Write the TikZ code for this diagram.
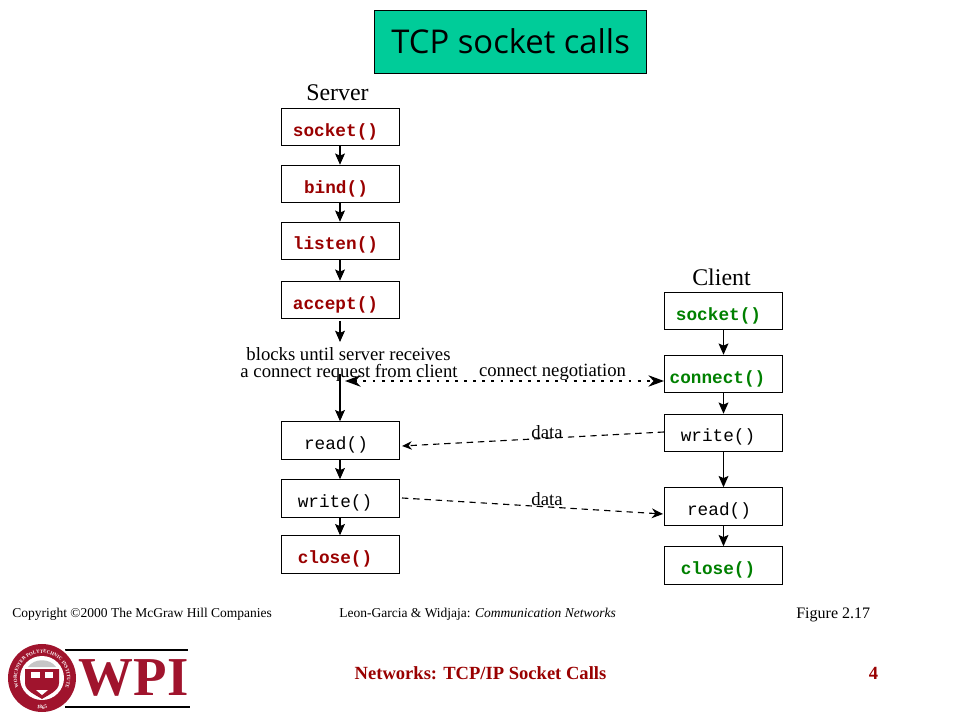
\documentclass[tikz,border=0pt]{standalone}
\usepackage{fontspec}
\setmainfont{Liberation Serif}
\setmonofont{Liberation Mono}
\setsansfont{Open Sans}
\usetikzlibrary{arrows.meta, decorations.text}

\definecolor{titlegreen}{RGB}{0,204,153}
\definecolor{callred}{RGB}{153,0,0}
\definecolor{callgreen}{RGB}{0,128,0}
\definecolor{wpired}{RGB}{160,20,45}

\def\px{*0.7112pt}
\tikzset{
    callbox/.style={draw, line width=0.7pt, minimum width=118\px, minimum height=37.5\px, inner sep=0pt},
    plaincall/.style={inner sep=0pt, font=\ttfamily\fontsize{12.6}{13}\selectfont},
    servercall/.style={plaincall, text=callred, font=\ttfamily\bfseries\fontsize{12.6}{13}\selectfont},
    clientcall/.style={plaincall, text=callgreen, font=\ttfamily\bfseries\fontsize{12.6}{13}\selectfont},
    flow/.style={-{Stealth[length=8pt, width=7pt, inset=1.5pt]}, line width=0.8pt},
    message/.style={line width=0.8pt, dash pattern=on 4.5pt off 3.5pt},
    note/.style={font=\fontsize{13.3}{14}\selectfont, inner sep=0pt},
    small/.style={font=\fontsize{9.6}{11}\selectfont, inner sep=0pt, anchor=west},
}

\begin{document}
\begin{tikzpicture}[x=0.025cm, y=-0.025cm]
    \useasboundingbox (0,0) rectangle (960,720);

    % Title
    \node[draw, fill=titlegreen, minimum width=272\px, minimum height=63\px, inner sep=0pt,
          font=\sffamily\fontsize{23.3}{25}\selectfont] (title) at (510,41.5) {\hspace{1pt}TCP socket calls};

    \node[font=\fontsize{17}{19}\selectfont, inner sep=0pt] (server) at (337.5,92.5) {Server};
    \node[font=\fontsize{17}{19}\selectfont, inner sep=0pt] (client) at (721.5,277.5) {Client};

    % Server boxes
    \foreach \nm/\y/\tx/\ty/\txt/\look in {
        ssocket/127/335.5/131.5/socket()/servercall,
        sbind/184/336/188.5/bind()/servercall,
        slisten/241/335.5/244.5/listen()/servercall,
        saccept/300/335.5/304.5/accept()/servercall,
        sread/440.5/336/445/read()/plaincall,
        swrite/498.5/335/503/write()/plaincall,
        sclose/554.5/335/559/close()/servercall}{
        \node[callbox] (\nm) at (340,\y) {};
        \node[\look] (\nm text) at (\tx,\ty) {\txt};
    }

    % Client boxes
    \foreach \nm/\y/\tx/\ty/\txt/\look in {
        csocket/311/718.5/315.5/socket()/clientcall,
        cconnect/374/717.5/378.5/connect()/clientcall,
        cwrite/433/718/437/write()/plaincall,
        cread/506.5/719/511/read()/plaincall,
        cclose/565.5/718/569.5/close()/clientcall}{
        \node[callbox] (\nm) at (723.5,\y) {};
        \node[\look] (\nm text) at (\tx,\ty) {\txt};
    }

    % Arrows, server
    \coordinate (blockA) at (340,321);
    \coordinate (blockB) at (340,342);
    \coordinate (blockC) at (340,374);
    \draw[flow] (ssocket) -- (sbind);
    \draw[flow] (sbind) -- (slisten);
    \draw[flow] (slisten) -- (saccept);
    \draw[flow] (blockA) -- (blockB);
    \draw[flow] (blockC) -- (sread);
    \draw[flow] (sread) -- (swrite);
    \draw[flow] (swrite) -- (sclose);

    % Arrows, client
    \draw[flow] (csocket) -- (cconnect);
    \draw[flow] (cconnect) -- (cwrite);
    \draw[flow] (cwrite) -- (cread);
    \draw[flow] (cread) -- (cclose);

    % Notes
    \node[note] (blocksa) at (348.5,354) {blocks until server receives};
    \node[note] (blocksb) at (349,372.5) {a connect request from client};
    \node[note] (nego) at (552.5,372.5) {connect negotiation};
    \node[note] (dataa) at (547,432) {data};
    \node[note] (datab) at (547,499) {data};

    % Messages
    \coordinate (negoL) at (345,381);
    \coordinate (writeR) at (664,432);
    \coordinate (readL) at (402,446);
    \coordinate (writeL) at (402,498);
    \coordinate (readR) at (663,514);
    \draw[{Stealth[length=11pt, width=8pt]}-{Stealth[length=11pt, width=8pt]}, line width=2pt, dash pattern=on 2pt off 4.5pt]
        (negoL) -- (negoL -| cconnect.west);
    \draw[message, -{Stealth[length=7pt, width=6pt]}] (writeR) -- (readL);
    \draw[message, -{Stealth[length=8pt, width=7pt]}] (writeL) -- (readR);

    % Footer
    \node[small] (copy) at (12,614.5) {Copyright \textcopyright 2000 The McGraw Hill Companies};
    \node[small] (book) at (339,614.5) {Leon-Garcia \& Widjaja: \textit{Communication Networks}};
    \node[small, font=\fontsize{11.4}{13}\selectfont] (fig) at (796,614.5) {Figure 2.17};
    \node[font=\bfseries\fontsize{13.2}{15}\selectfont, text=callred, inner sep=0pt] (foot) at (480.5,673.5) {Networks: TCP/IP Socket Calls};
    \node[font=\bfseries\fontsize{13.2}{15}\selectfont, text=callred, inner sep=0pt] (page) at (873.5,673.5) {4};

    % Logo
    \draw[black, line width=0.8pt] (65,650) -- (188,650);
    \draw[black, line width=1.2pt] (65,707) -- (190,707);
    \node[font=\bfseries\fontsize{39}{40}\selectfont, text=wpired, inner sep=0pt] (wpi) at (133.5,678) {WPI};
    \fill[white] (42,678) circle (36\px);
    \fill[wpired] (42,678) circle (34\px);
    \fill[white] (42,678) circle (22\px);
    \path[postaction={decorate, decoration={text along path, text align=center,
          text={|\fontsize{3.5}{4}\selectfont\bfseries\color{white}|WORCESTER POLYTECHNIC INSTITUTE}}}]
        (42,678) ++(145:25) arc[start angle=145, end angle=395, radius=25];
    \path[postaction={decorate, decoration={text along path, text align=center,
          text={|\fontsize{3.7}{4}\selectfont\bfseries\color{white}|1865}}}]
        (42,678) ++(118:31) arc[start angle=118, end angle=62, radius=31];
    % Shield
    \fill[wpired] (25,669) -- (59,669) -- (59,683) .. controls (59,691) and (48,695) .. (42,699)
        .. controls (36,695) and (25,691) .. (25,683) -- cycle;
    \fill[gray!45] (28,667) .. controls (34,658) and (50,658) .. (56,667) -- cycle;
    \fill[white] (31,672) rectangle (39.5,678);
    \fill[white] (44.5,672) rectangle (53,678);
    \fill[white] (36,690) -- (48,690) -- (42,695) -- cycle;
\end{tikzpicture}
\end{document}
